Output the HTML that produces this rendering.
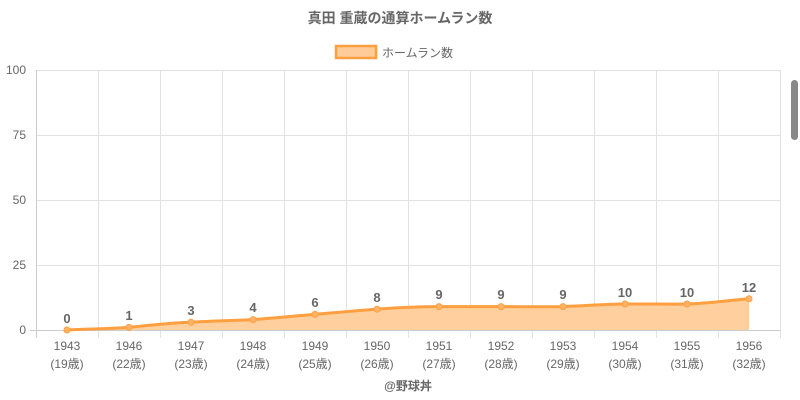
<!DOCTYPE html>
<html><head><meta charset="utf-8"><style>
html,body{margin:0;padding:0;background:#fff;width:800px;height:400px;overflow:hidden}
text{font-family:"Liberation Sans","Noto Sans CJK JP",sans-serif}
</style></head><body>
<svg width="800" height="400" viewBox="0 0 800 400" xmlns="http://www.w3.org/2000/svg">
<text x="400" y="23" text-anchor="middle" font-size="14" font-weight="bold" fill="#666">真田 重蔵の通算ホームラン数</text>
<rect x="336" y="46" width="40" height="12" fill="#ffcc99" stroke="#ff9f40" stroke-width="2.5"/>
<text x="382" y="57" font-size="12" fill="#666">ホームラン数</text>
<g stroke="#e2e2e2" stroke-width="1">
<line x1="36" y1="70.5" x2="780" y2="70.5"/>
<line x1="36" y1="135.5" x2="780" y2="135.5"/>
<line x1="36" y1="200.5" x2="780" y2="200.5"/>
<line x1="36" y1="265.5" x2="780" y2="265.5"/>
<line x1="98.5" y1="70" x2="98.5" y2="338"/><line x1="160.5" y1="70" x2="160.5" y2="338"/><line x1="222.5" y1="70" x2="222.5" y2="338"/><line x1="284.5" y1="70" x2="284.5" y2="338"/><line x1="346.5" y1="70" x2="346.5" y2="338"/><line x1="408.5" y1="70" x2="408.5" y2="338"/><line x1="470.5" y1="70" x2="470.5" y2="338"/><line x1="532.5" y1="70" x2="532.5" y2="338"/><line x1="594.5" y1="70" x2="594.5" y2="338"/><line x1="656.5" y1="70" x2="656.5" y2="338"/><line x1="718.5" y1="70" x2="718.5" y2="338"/><line x1="780.5" y1="70" x2="780.5" y2="338"/>
</g>
<line x1="36.5" y1="70" x2="36.5" y2="338" stroke="#ccc"/>
<line x1="30" y1="330.5" x2="780" y2="330.5" stroke="#ccc"/>
<g font-size="12" fill="#666" text-anchor="end">
<text x="26" y="74">100</text><text x="26" y="139">75</text><text x="26" y="204">50</text><text x="26" y="269">25</text><text x="26" y="334">0</text>
</g>
<path d="M67,330 C90,329 110,328.5 129,327.4 C150,325 170,323 191,322.2 C212,321 232,320.6 253,319.6 C275,318 295,316 315,314.4 C336,312.5 356,310.5 377,309.2 C398,307.5 418,306.6 439,306.6 C460,306.6 480,306.6 501,306.6 C522,306.6 542,307 563,306.6 C584,305.8 604,304.2 625,304 C646,303.8 666,304.3 687,304 C708,303.5 728,300.5 749,298.8 L749,330 Z" fill="#ffcc99" opacity="0.95"/>
<path d="M67,330 C90,329 110,328.5 129,327.4 C150,325 170,323 191,322.2 C212,321 232,320.6 253,319.6 C275,318 295,316 315,314.4 C336,312.5 356,310.5 377,309.2 C398,307.5 418,306.6 439,306.6 C460,306.6 480,306.6 501,306.6 C522,306.6 542,307 563,306.6 C584,305.8 604,304.2 625,304 C646,303.8 666,304.3 687,304 C708,303.5 728,300.5 749,298.8" fill="none" stroke="#ff9f40" stroke-width="3" stroke-linejoin="round"/>
<g fill="#ffb366" stroke="#ff9f40" stroke-width="1">
<circle cx="67" cy="330" r="3"/><circle cx="129" cy="327.4" r="3"/><circle cx="191" cy="322.2" r="3"/><circle cx="253" cy="319.6" r="3"/><circle cx="315" cy="314.4" r="3"/><circle cx="377" cy="309.2" r="3"/><circle cx="439" cy="306.6" r="3"/><circle cx="501" cy="306.6" r="3"/><circle cx="563" cy="306.6" r="3"/><circle cx="625" cy="304" r="3"/><circle cx="687" cy="304" r="3"/><circle cx="749" cy="298.8" r="3"/>
</g>
<g font-size="13" font-weight="bold" fill="#666" text-anchor="middle">
<text x="67" y="323">0</text><text x="129" y="320">1</text><text x="191" y="315">3</text><text x="253" y="312">4</text><text x="315" y="307">6</text><text x="377" y="302">8</text><text x="439" y="299">9</text><text x="501" y="299">9</text><text x="563" y="299">9</text><text x="625" y="297">10</text><text x="687" y="297">10</text><text x="749" y="292">12</text>
</g>
<g font-size="12" fill="#666" text-anchor="middle">
<text x="67" y="350">1943</text><text x="129" y="350">1946</text><text x="191" y="350">1947</text><text x="253" y="350">1948</text><text x="315" y="350">1949</text><text x="377" y="350">1950</text><text x="439" y="350">1951</text><text x="501" y="350">1952</text><text x="563" y="350">1953</text><text x="625" y="350">1954</text><text x="687" y="350">1955</text><text x="749" y="350">1956</text>
<text x="67" y="368">(19歳)</text><text x="129" y="368">(22歳)</text><text x="191" y="368">(23歳)</text><text x="253" y="368">(24歳)</text><text x="315" y="368">(25歳)</text><text x="377" y="368">(26歳)</text><text x="439" y="368">(27歳)</text><text x="501" y="368">(28歳)</text><text x="563" y="368">(29歳)</text><text x="625" y="368">(30歳)</text><text x="687" y="368">(31歳)</text><text x="749" y="368">(32歳)</text>
</g>
<text x="408" y="390" text-anchor="middle" font-size="12" font-weight="bold" fill="#666">@野球丼</text>
<rect x="791" y="80" width="7" height="60" rx="3.5" fill="#888"/>
</svg>
</body></html>
